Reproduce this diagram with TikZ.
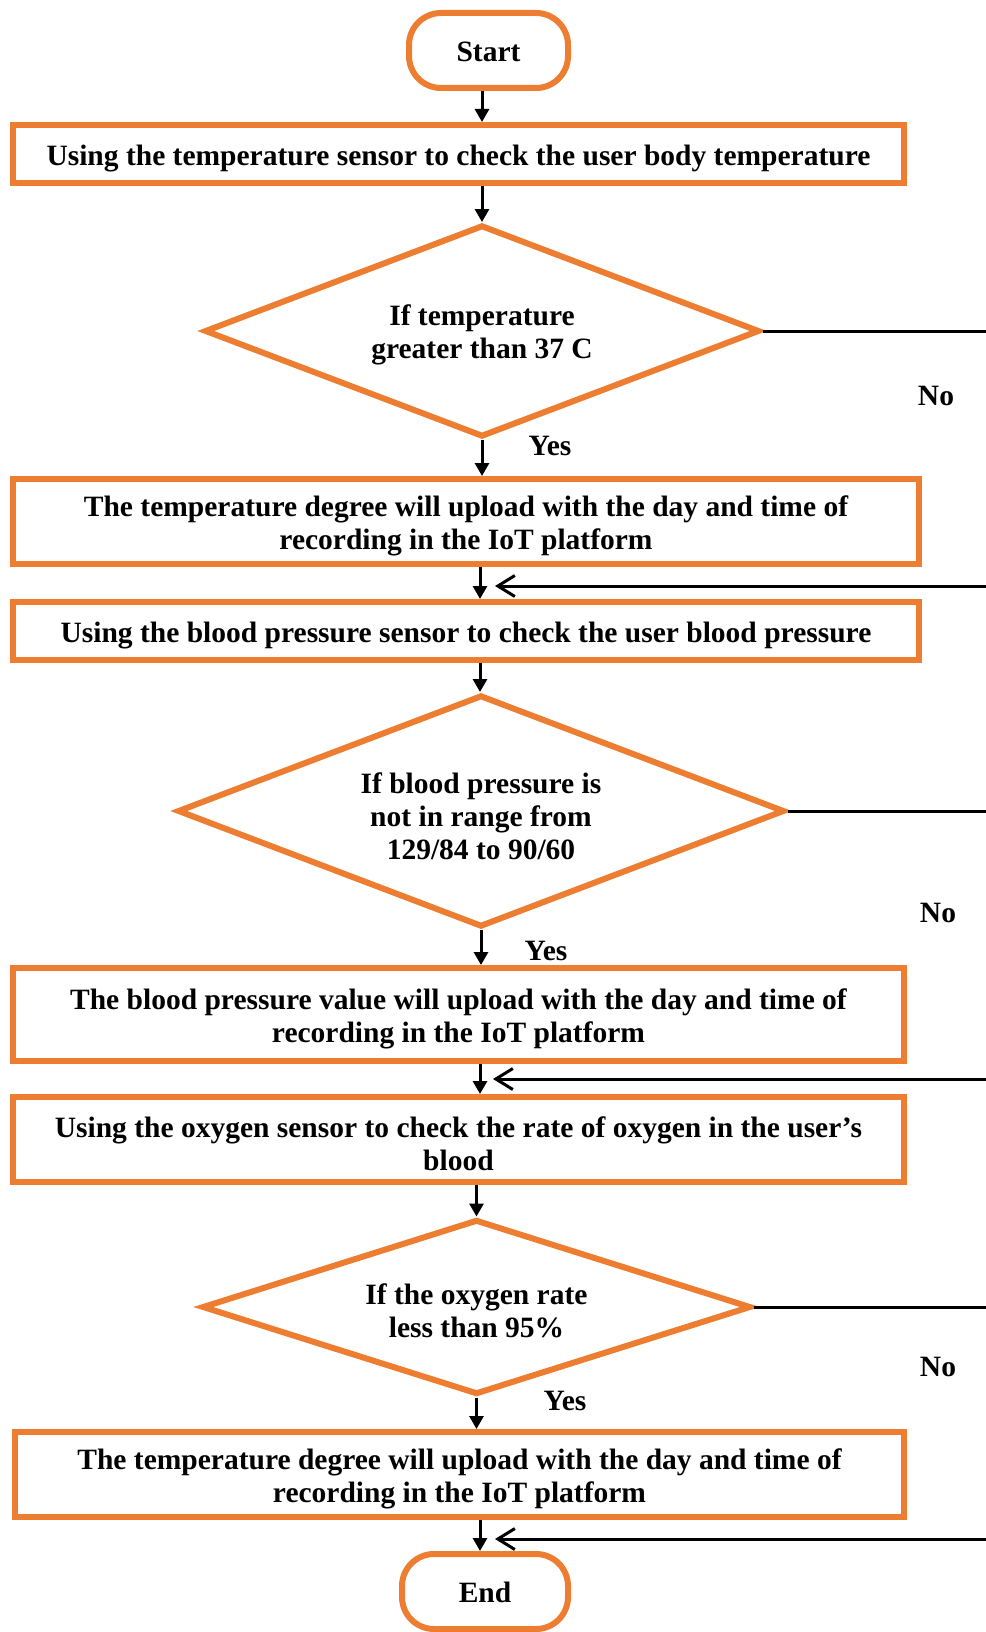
\documentclass[tikz,border=0pt]{standalone}
\usepackage{fontspec}
\setmainfont{Liberation Serif}
\usetikzlibrary{shapes.geometric,arrows.meta}
\definecolor{orng}{HTML}{ED7D31}
\newcommand{\ntext}[2][4.5pt]{\raisebox{-#1}[\height][\depth]{\begin{tabular}{@{}c@{}}#2\end{tabular}}}
\begin{document}
\begin{tikzpicture}[x=1pt,y=-1pt,
  every node/.style={font=\fontsize{29.5}{33}\selectfont\bfseries},
  box/.style={draw=orng,line width=6pt,rectangle,inner sep=0pt},
  term/.style={draw=orng,line width=6pt,rectangle,rounded corners=32pt,minimum width=159pt,minimum height=75pt,inner sep=0pt},
  dec/.style={draw=orng,line width=6pt,diamond,inner sep=0pt},
  arr/.style={line width=3pt,-{Triangle[length=13pt,width=14pt]}},
  back/.style={line width=3pt,-{Straight Barb[length=17pt,width=21pt]}}]
\useasboundingbox (0,0) rectangle (985,1632);

\node[term] (start) at (488.5,50.5) {\ntext{Start}};
\node[box,minimum width=891pt,minimum height=58pt] (b1) at (458.5,154) {\ntext{Using the temperature sensor to check the user body temperature}};
\node[dec,aspect=2.62,minimum width=555pt,minimum height=212pt] (d1) at (482,331) {\ntext{If temperature\\greater than 37 C}};
\node[box,minimum width=906pt,minimum height=85pt] (b2) at (466,521.5) {\ntext{The temperature degree will upload with the day and time of\\recording in the IoT platform}};
\node[box,minimum width=906pt,minimum height=58pt] (b3) at (466,631) {\ntext{Using the blood pressure sensor to check the user blood pressure}};
\node[dec,aspect=2.62,minimum width=607pt,minimum height=232pt] (d2) at (481,811) {\ntext[8.5pt]{If blood pressure is\\not in range from\\129/84 to 90/60}};
\node[box,minimum width=891pt,minimum height=93pt] (b4) at (458.5,1014.5) {\ntext{The blood pressure value will upload with the day and time of\\recording in the IoT platform}};
\node[box,minimum width=891pt,minimum height=85pt] (b5) at (458.5,1139.5) {\ntext[7.5pt]{Using the oxygen sensor to check the rate of oxygen in the user’s\\blood}};
\node[dec,aspect=3.14,minimum width=549pt,minimum height=175pt] (d3) at (476.5,1307) {\ntext[7.5pt]{If the oxygen rate\\less than 95\%}};
\node[box,minimum width=889pt,minimum height=85pt] (b6) at (459.5,1474.5) {\ntext{The temperature degree will upload with the day and time of\\recording in the IoT platform}};
\node[term,minimum width=166pt] (end) at (485,1591.5) {\ntext{End}};

\node (yes1) at (550,446) {Yes};
\node (yes2) at (546,951) {Yes};
\node (yes3) at (565,1401) {Yes};
\node (no1) at (936,396) {No};
\node (no2) at (938,913) {No};
\node (no3) at (938,1367) {No};

\coordinate (cA) at (482,0);
\coordinate (cB) at (480,0);
\coordinate (ex) at (1005,0);
\coordinate (t1) at (495,586);
\coordinate (t2) at (493,1079);
\coordinate (t3) at (495,1539);

\draw[arr] (cA |- start.south) -- (cA |- b1.north);
\draw[arr] (cA |- b1.south) -- (cA |- d1.north);
\draw[arr] (d1.south) -- (d1.south |- b2.north);
\draw[arr] (cB |- b2.south) -- (cB |- b3.north);
\draw[arr] (cB |- b3.south) -- (cB |- d2.north);
\draw[arr] (d2.south) -- (d2.south |- b4.north);
\draw[arr] (cB |- b4.south) -- (cB |- b5.north);
\draw[arr] (d3.north |- b5.south) -- (d3.north);
\draw[arr] (d3.south) -- (d3.south |- b6.north);
\draw[arr] (cB |- b6.south) -- (cB |- end.north);

\draw[back] (d1.east) -- (d1.east -| ex) -- (ex |- t1) -- (t1);
\draw[back] (d2.east) -- (d2.east -| ex) -- (ex |- t2) -- (t2);
\draw[back] (d3.east) -- (d3.east -| ex) -- (ex |- t3) -- (t3);
\end{tikzpicture}
\end{document}
